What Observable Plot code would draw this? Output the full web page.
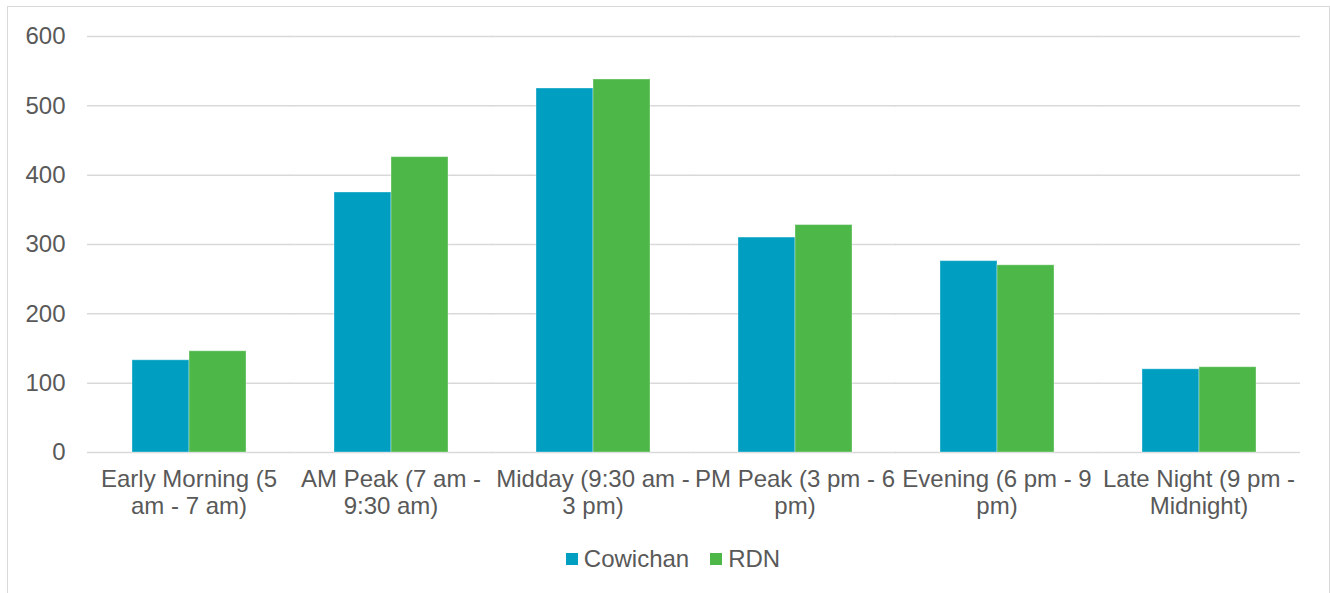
<!DOCTYPE html>
<html>
<head>
<meta charset="utf-8">
<script src="https://cdn.jsdelivr.net/npm/d3@7"></script>
<script src="https://cdn.jsdelivr.net/npm/@observablehq/plot@0.6"></script>
<style>
  html, body { margin: 0; padding: 0; background: #fff; overflow: hidden; }
  #frame {
    position: absolute; left: 7px; top: 6px; width: 1323px; height: 640px;
    box-sizing: border-box; border: 1.5px solid #d9d9d9;
  }
  #chart { position: absolute; left: 0; top: 0; }
  #legend { position: absolute; left: 13px; width: 1320px; top: 542px; }
  .lg-swatches { justify-content: center !important; margin: 0 !important; min-height: 33px !important; }
  .lg-swatch { margin-right: 21px !important; }
  .lg-swatch:last-child { margin-right: 0 !important; }
  .lg-swatch > svg { margin-right: 6px !important; }
</style>
</head>
<body>
<div id="frame"></div>
<div id="chart"></div>
<div id="legend"></div>
<script>
// Time-of-day periods (full names) and their wrapped axis labels
const categories = [
  "Early Morning (5 am - 7 am)",
  "AM Peak (7 am - 9:30 am)",
  "Midday (9:30 am - 3 pm)",
  "PM Peak (3 pm - 6 pm)",
  "Evening (6 pm - 9 pm)",
  "Late Night (9 pm - Midnight)"
];
const tickLabels = [
  "Early Morning (5\nam - 7 am)",
  "AM Peak (7 am -\n9:30 am)",
  "Midday (9:30 am -\n3 pm)",
  "PM Peak (3 pm - 6\npm)",
  "Evening (6 pm - 9\npm)",
  "Late Night (9 pm -\nMidnight)"
];
const series = ["Cowichan", "RDN"];
const cowichan = [133, 375, 525, 310, 276, 120];
const rdn = [146, 426, 538, 328, 270, 123];
const yTicks = [0, 100, 200, 300, 400, 500, 600];
const seriesColors = ["#009FC2", "#4DB748"];

// Long-format table for the grouped bars
const table = categories.flatMap((c, i) => [
  {category: c, series: series[0], value: cowichan[i]},
  {category: c, series: series[1], value: rdn[i]}
]);

const font = "'Liberation Sans', Arial, sans-serif";

const chart = Plot.plot({
  width: 1330,
  height: 530,
  marginLeft: 86,
  marginRight: 29,
  marginTop: 36,
  marginBottom: 78,
  style: {fontFamily: font, fontSize: "24px", color: "#595959", background: "transparent"},
  fx: {domain: categories, paddingInner: 0.4327, paddingOuter: 0.2163, label: null},
  x: {domain: series, padding: 0, axis: null},
  y: {domain: [0, 600], label: null},
  color: {domain: series, range: seriesColors},
  marks: [
    // horizontal gridlines stretched across the gaps between groups
    Plot.ruleY(yTicks, {stroke: "#d9d9d9", strokeWidth: 1.5, insetLeft: -44, insetRight: -44}),
    Plot.barY(table, {fx: "category", x: "series", y: "value", fill: "series",
                      stroke: "white", strokeOpacity: 0.35, strokeWidth: 1}),
    Plot.axisY(yTicks, {tickSize: 0, tickPadding: 66, fontSize: 24, label: null}),
    Plot.axisFx({anchor: "bottom", tickSize: 0, tickPadding: 15, fontSize: 24, lineHeight: 1.14,
                 label: null, tickFormat: d => tickLabels[categories.indexOf(d)]})
  ]
});
document.getElementById("chart").appendChild(chart);

const legend = Plot.legend({
  color: {domain: series, range: seriesColors},
  swatchSize: 12,
  className: "lg",
  style: {fontFamily: font, fontSize: "24px", color: "#595959"}
});
document.getElementById("legend").appendChild(legend);
</script>
</body>
</html>
